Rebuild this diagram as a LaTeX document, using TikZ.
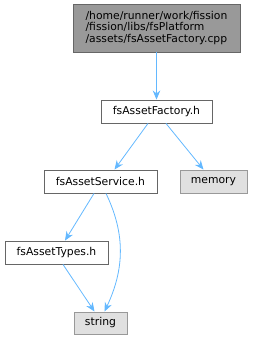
\documentclass[tikz,border=0pt]{standalone}
\usepackage{fontspec}
\setmainfont{DejaVu Sans}
\usetikzlibrary{arrows.meta,calc}
\definecolor{edgeblue}{HTML}{63B8FF}
\definecolor{boxborder}{HTML}{666666}
\definecolor{topfill}{HTML}{999999}
\definecolor{extfill}{HTML}{E0E0E0}
\definecolor{extborder}{HTML}{999999}
\tikzset{
  filebox/.style={draw=boxborder,fill=white,line width=0.9pt,rectangle,inner sep=0pt,minimum height=23pt,font=\fontsize{10.8}{11.2}\selectfont},
  extbox/.style={filebox,draw=extborder,fill=extfill},
  topbox/.style={filebox,fill=topfill,align=left},
  dep/.style={draw=edgeblue,line width=0.8pt,-{Stealth[length=9pt,width=7.5pt]}}
}
\begin{document}
\begin{tikzpicture}[x=1pt,y=-1pt]
\useasboundingbox (0,0) rectangle (253,340);
\node[topbox,minimum width=167pt,minimum height=48pt] (top) at (156.5,28) {/home/runner/work/fission\\/fission/libs/fsPlatform\\/assets/fsAssetFactory.cpp};
\node[filebox,minimum width=111pt] (factory) at (156.5,111.5) {fsAssetFactory.h};
\node[filebox,minimum width=113pt] (service) at (100.5,181.5) {fsAssetService.h};
\node[extbox,minimum width=67pt] (memory) at (213.5,181.5) {memory};
\node[filebox,minimum width=103pt] (types) at (56.5,252.5) {fsAssetTypes.h};
\node[extbox,minimum width=53pt,minimum height=22pt] (string) at (100.5,323) {string};
\draw[dep] (top.south) -- (factory.north);
\draw[dep] ([xshift=-8.5pt]factory.south) -- ([xshift=14pt]service.north);
\draw[dep] ([xshift=9.5pt]factory.south) -- ([xshift=-10pt]memory.north);
\draw[dep] ([xshift=-6.5pt]service.south) -- ([xshift=8.5pt]types.north);
\draw[dep] ([xshift=5.5pt]service.south) .. controls (126,235) and (124,270) .. ([xshift=4pt]string.north);
\draw[dep] ([xshift=6.5pt]types.south) -- ([xshift=-6pt]string.north);
\end{tikzpicture}
\end{document}
